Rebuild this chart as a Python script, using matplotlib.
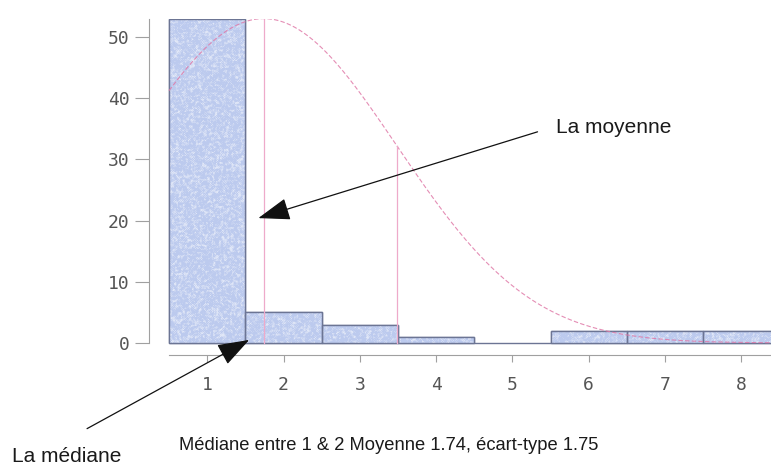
import numpy as np
import matplotlib
matplotlib.use("Agg")
import matplotlib.pyplot as plt

# Effectifs par valeur observée (histogramme, classes de largeur 1)
valeurs = [1, 2, 3, 4, 5, 6, 7, 8]
effectifs = [53, 5, 3, 1, 0, 2, 2, 2]
xticks = [1, 2, 3, 4, 5, 6, 7, 8]
yticks = [0, 10, 20, 30, 40, 50]

moyenne = 1.74
ecart_type = 1.75

W, H = 771, 465
fig = plt.figure(figsize=(W / 100, H / 100), dpi=100)
fig.patch.set_facecolor("white")

# axes placés en pixels : gauche 149, bas 355, haut ~19
ax = fig.add_axes([149 / W, (H - 355.2) / H, 622 / W, 336.6 / H])
ax.set_xlim(0.237, 8.39)
ax.set_ylim(-2, 53)

bar_face = np.array([188, 202, 238]) / 255
bar_edge = "#6c7594"
bars = ax.bar(valeurs, effectifs, width=1.0, color=bar_face, edgecolor=bar_edge,
              linewidth=1.0, zorder=2)

# grain clair sur le remplissage des barres
rng = np.random.default_rng(7)
grain = rng.random((340, 640))
grain = (grain + np.roll(grain, 1, 0) + np.roll(grain, 1, 1)
         + np.roll(grain, -1, 0) + np.roll(grain, -1, 1)) / 5
a = np.clip((grain - 0.45) * 1.6, 0, 0.55)[..., None]
tex = bar_face * (1 - a) + a
tex = np.concatenate([tex, np.ones(tex.shape[:2] + (1,))], axis=2)
for b in bars:
    if b.get_height() <= 0:
        continue
    im = ax.imshow(tex, extent=(0.237, 8.39, -2, 53), aspect="auto",
                   interpolation="nearest", zorder=2.1)
    im.set_clip_path(b)
    ax.add_patch(plt.Rectangle(b.get_xy(), b.get_width(), b.get_height(),
                               fill=False, edgecolor=bar_edge, lw=1.0, zorder=2.2))

# courbe en cloche ajustée sur le maximum de l'histogramme
xs = np.linspace(0.5, 8.5, 400)
pic = max(effectifs)
courbe = pic * np.exp(-(xs - moyenne) ** 2 / (2 * ecart_type ** 2))
ax.plot(xs, courbe, color="#e07aa8", lw=0.8, ls=(0, (4, 2)), alpha=0.85, zorder=3)

# repères : moyenne et moyenne + écart-type
for xv in (moyenne, moyenne + ecart_type):
    hv = pic * np.exp(-(xv - moyenne) ** 2 / (2 * ecart_type ** 2))
    ax.plot([xv, xv], [0, hv], color="#eeaaca", lw=0.9, zorder=3)

for side in ("top", "right"):
    ax.spines[side].set_visible(False)
ax.spines["left"].set_bounds(0, 53)
ax.spines["bottom"].set_bounds(0.5, 8.39)
ax.spines["left"].set_color("#a0a0a0")
ax.spines["bottom"].set_color("#a0a0a0")

ax.set_yticks(yticks)
ax.set_xticks(xticks)
mono = "DejaVu Sans Mono"
ax.tick_params(axis="y", length=10, width=0.8, color="#a0a0a0", pad=4,
               labelsize=13, labelcolor="#555555")
ax.tick_params(axis="x", length=5, width=0.8, color="#a0a0a0", pad=10,
               labelsize=13, labelcolor="#555555")
for lab in ax.get_xticklabels() + ax.get_yticklabels():
    lab.set_family(mono)

arrow = dict(arrowstyle="-|>,head_length=1.0,head_width=0.35",
             mutation_scale=20, color="#111111", lw=0.9, shrinkA=0, shrinkB=0)

# flèche vers la moyenne
ax.annotate("", xy=(1.67, 20.4), xytext=(5.33, 34.5), arrowprops=arrow,
            annotation_clip=False, zorder=5)
# flèche vers la médiane
ax.annotate("", xy=(1.55, 0.5), xytext=(-0.575, -14.0), arrowprops=arrow,
            annotation_clip=False, zorder=5)

sans = "Liberation Sans"
fig.text(556 / W, 1 - 133 / H, "La moyenne", family=sans, fontsize=15,
         color="#1a1a1a", va="baseline", ha="left")
fig.text(12 / W, 1 - 462 / H, "La médiane", family=sans, fontsize=15,
         color="#1a1a1a", va="baseline", ha="left")
fig.text(179 / W, 1 - 450 / H,
         "Médiane entre 1 & 2 Moyenne 1.74, écart-type 1.75",
         family=sans, fontsize=13.2, color="#1a1a1a", va="baseline", ha="left")

fig.savefig("out.png", dpi=100, facecolor="white")
